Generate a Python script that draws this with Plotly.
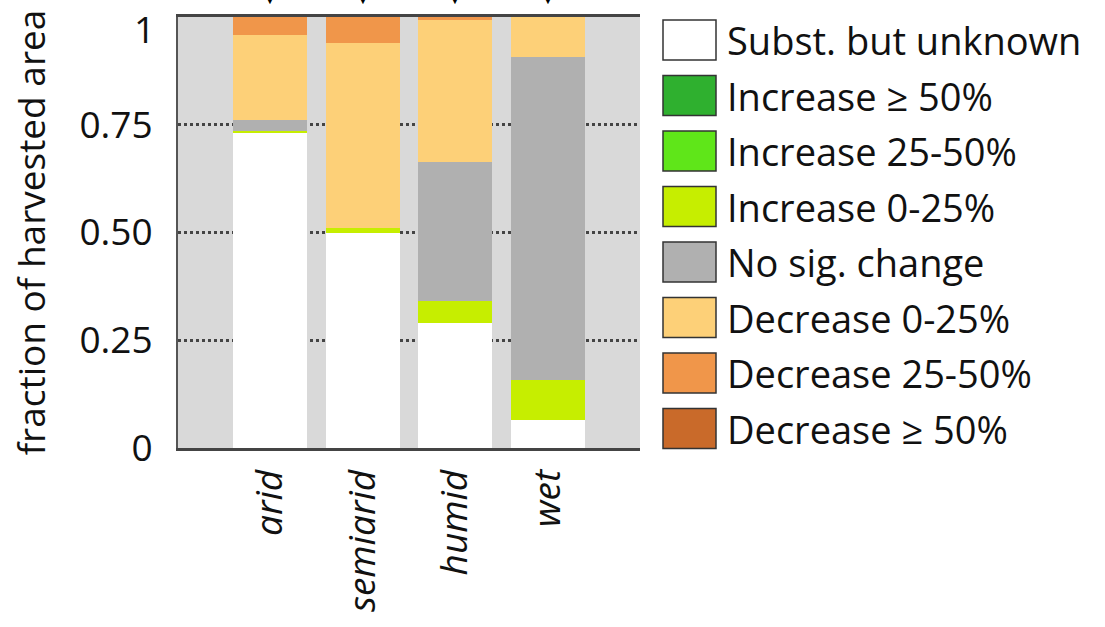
import plotly.graph_objects as go

categories = ["arid", "semiarid", "humid", "wet"]
series_names = ["Subst. but unknown", "Increase ≥ 50%", "Increase 25-50%", "Increase 0-25%",
                "No sig. change", "Decrease 0-25%", "Decrease 25-50%", "Decrease ≥ 50%"]
series_colors = ["#ffffff", "#2fb02f", "#5fe619", "#c6ee00",
                 "#b0b0b0", "#fdd078", "#f0964a", "#c96a2a"]
subst_unknown = [0.731, 0.500, 0.291, 0.065]
increase_50 = [0.0, 0.0, 0.0, 0.0]
increase_25_50 = [0.0, 0.0, 0.0, 0.0]
increase_0_25 = [0.004, 0.010, 0.051, 0.093]
no_sig_change = [0.026, 0.0, 0.322, 0.750]
decrease_0_25 = [0.197, 0.430, 0.329, 0.092]
decrease_25_50 = [0.042, 0.060, 0.007, 0.0]
decrease_50 = [0.0, 0.0, 0.0, 0.0]
series_values = [subst_unknown, increase_50, increase_25_50, increase_0_25,
                 no_sig_change, decrease_0_25, decrease_25_50, decrease_50]
y_ticks = [0, 0.25, 0.5, 0.75, 1]
y_tick_labels = ["0", "0.25", "0.50", "0.75", "1"]

FONT = "Open Sans"
fig = go.Figure()
for name, color, vals in zip(series_names, series_colors, series_values):
    fig.add_trace(go.Bar(x=categories, y=vals, name=name, marker=dict(color=color, line=dict(width=0)),
                         width=0.8, showlegend=False))

# small arrow heads above each bar (partly cut off by the page top)
for c in categories:
    fig.add_annotation(x=c, y=1, xref="x", yref="y", text="▼", showarrow=False,
                       yanchor="bottom", yshift=6, font=dict(size=16, color="black"))

W, H = 1105, 627
PL, PR, PT, PB = 178, 640, 17, 448
def px_x(v):
    return (v - PL) / (PR - PL)
def px_y(v):
    return (PB - v) / (PB - PT)

# top tick label, nudged down inside the page as in the original
fig.add_annotation(xref="paper", yref="y", x=px_x(157), y=y_ticks[-1], text=y_tick_labels[-1],
                   showarrow=False, xanchor="right", yanchor="middle", yshift=-11,
                   font=dict(family=FONT, size=37, color="#111111"))

# custom legend
x0, x1 = 663, 716
row_h = 55.5
top = 20
for i, (name, color) in enumerate(zip(series_names, series_colors)):
    yt = top + i * row_h
    fig.add_shape(type="rect", xref="paper", yref="paper",
                  x0=px_x(x0), x1=px_x(x1), y0=px_y(yt + 40), y1=px_y(yt),
                  fillcolor=color, line=dict(color="#333333", width=1.5))
    fig.add_annotation(xref="paper", yref="paper", x=px_x(725),
                       y=px_y(yt + 20), text=name, showarrow=False,
                       xanchor="left", yanchor="middle",
                       font=dict(family=FONT, size=38, color="#111111"))

fig.update_layout(
    barmode="stack",
    width=W, height=H,
    margin=dict(l=PL, r=W - PR, t=PT, b=H - PB, autoexpand=False),
    plot_bgcolor="#d9d9d9",
    paper_bgcolor="white",
    bargap=0.2,
    font=dict(family=FONT, size=37, color="#111111"),
)
fig.update_xaxes(range=[-1, 4], showgrid=False, showline=True, linecolor="#444444", linewidth=3,
                 mirror=True, ticks="", tickangle=-90, ticklabelstandoff=4, automargin=False,
                 tickfont=dict(family=FONT, size=37, style="italic"))
fig.update_yaxes(range=[0, 1], tickvals=y_ticks[:-1], ticktext=y_tick_labels[:-1], showgrid=True,
                 gridcolor="#444444", griddash="dot", gridwidth=2.5, showline=True,
                 linecolor="#555555", linewidth=2, ticks="", zeroline=False,
                 ticklabelstandoff=16, automargin=False,
                 title=dict(text="fraction of harvested area", font=dict(size=37), standoff=22),
                 tickfont=dict(size=37))
fig.write_html("out.html")
